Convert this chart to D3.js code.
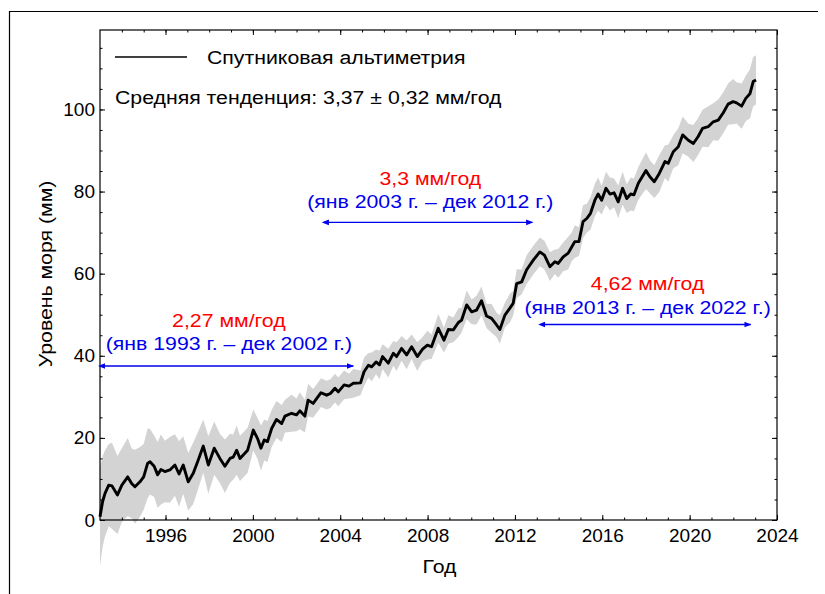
<!DOCTYPE html>
<html>
<head>
<meta charset="utf-8">
<script src="https://cdn.jsdelivr.net/npm/d3@7"></script>
<style>
  body { margin: 0; background: #fff; }
  text { font-family: "Liberation Sans", Arial, sans-serif; }
</style>
</head>
<body>
<svg id="chart"></svg>
<script>
// satellite altimetry GMSL (year, mm, +/- band)
let years = [
  1993.00, 1993.12, 1993.23, 1993.40, 1993.55, 1993.80,
  1994.00, 1994.27, 1994.45, 1994.60, 1994.83,
  1995.00, 1995.18, 1995.29, 1995.48, 1995.64, 1995.79, 1995.97,
  1996.20, 1996.43, 1996.62, 1996.81,
  1997.04, 1997.27, 1997.50, 1997.73, 1997.96,
  1998.23, 1998.49, 1998.72, 1998.95,
  1999.10, 1999.26, 1999.41, 1999.76,
  2000.02, 2000.21, 2000.37, 2000.52, 2000.67, 2000.86,
  2001.08, 2001.32, 2001.47, 2001.77,
  2002.00, 2002.15, 2002.38, 2002.53, 2002.76,
  2003.12, 2003.38, 2003.55, 2003.76, 2003.91,
  2004.18, 2004.40, 2004.60, 2004.93,
  2005.09, 2005.29, 2005.44, 2005.64, 2005.80, 2005.94,
  2006.20, 2006.43, 2006.58, 2006.81,
  2007.04, 2007.27, 2007.53, 2007.77, 2007.99,
  2008.18, 2008.49, 2008.75, 2008.95,
  2009.18, 2009.41, 2009.56, 2009.79,
  2010.02, 2010.24, 2010.47, 2010.70, 2010.93,
  2011.16, 2011.31, 2011.54, 2011.77, 2011.92,
  2012.08, 2012.31, 2012.53, 2012.84,
  2013.14, 2013.35, 2013.60, 2013.83, 2013.98,
  2014.21, 2014.44, 2014.60, 2014.74, 2014.93,
  2015.12, 2015.30, 2015.46, 2015.66, 2015.81, 2015.97,
  2016.17, 2016.35, 2016.54, 2016.73, 2016.93,
  2017.12, 2017.30, 2017.45, 2017.65,
  2018.00, 2018.18, 2018.38, 2018.61, 2018.87,
  2019.02, 2019.25, 2019.48, 2019.68, 2019.94,
  2020.17, 2020.39, 2020.59, 2020.85,
  2021.08, 2021.31, 2021.54, 2021.76, 2021.99,
  2022.15, 2022.38, 2022.57, 2022.76, 2022.91,
  2023.04
];
let seaLevel = [
  0.8, 4.5, 6.5, 8.5, 8.3, 6.1,
  8.5, 10.5, 8.9, 8.1, 9.3,
  10.5, 13.8, 14.2, 13.1, 11.0, 12.3, 11.8,
  12.2, 13.4, 11.2, 13.4,
  9.3, 11.4, 14.6, 18.0, 13.4,
  17.5, 15.0, 13.1, 15.0,
  15.3, 17.0, 15.0, 17.0,
  21.9, 19.9, 17.5, 19.5, 19.1, 22.3,
  24.5, 23.5, 25.3, 26.0,
  25.6, 26.6, 25.3, 29.2, 28.4,
  31.0, 30.4, 30.8, 32.1, 31.2,
  32.9, 32.6, 33.3, 33.4,
  36.1, 37.7, 37.3, 38.5, 37.8, 39.8,
  38.2, 40.6, 39.8, 41.8,
  40.2, 42.2, 39.8, 41.6, 42.6,
  42.2, 46.7, 43.8, 46.4,
  46.3, 48.1, 48.7, 52.4,
  50.7, 51.1, 53.4, 49.7, 49.1,
  47.5, 46.4, 49.9, 51.6, 52.8,
  57.6, 58.0, 60.9, 63.3,
  65.3, 64.5, 61.7, 62.9, 62.5,
  64.1, 65.0, 66.5, 67.8, 67.8,
  72.7, 73.5, 74.7, 77.9, 79.4, 77.9,
  80.8, 79.4, 79.7, 77.5, 80.8,
  78.3, 79.4, 79.2, 82.0,
  85.1, 83.6, 82.4, 84.4, 87.3,
  86.9, 89.7, 90.9, 93.8, 92.5,
  91.7, 93.4, 95.4, 95.8,
  97.0, 97.4, 99.2, 101.3, 101.9,
  101.6, 100.8, 102.7, 103.8, 106.8,
  107.2
];
let spread = [
  12, 11, 10.5, 10, 10.5, 9.5,
  9, 9.5, 8.5, 9, 8.5,
  8, 8.5, 8, 7.5, 8, 8.5, 7.5,
  8, 7.5, 8, 7,
  7, 7.5, 7, 6.5, 7,
  6.5, 6, 6.5, 6,
  5.5, 6, 5.5, 5.5,
  5, 5, 5.5, 5, 5, 4.5,
  4.5, 4.5, 4, 4.5,
  4, 4.5, 4, 4, 3.5,
  3.5, 3.5, 3.5, 3.5, 3.5,
  3.5, 3, 3.5, 3,
  3.5, 3, 3.5, 3, 3.5, 3,
  3.5, 3, 3.5, 3,
  3.5, 3, 3.5, 3, 3.5,
  3, 3.5, 3, 3.5,
  3, 3.5, 3, 3.5,
  3, 3.5, 3.5, 3, 3.5,
  3, 3.5, 3, 3.5, 3,
  3.5, 3, 3.5, 3.5,
  3.5, 3.5, 3.5, 3, 3.5,
  3.5, 4, 3.5, 4, 3.5,
  4, 3.5, 4, 4, 4, 3.5,
  4, 4, 3.5, 4, 4,
  3.5, 4, 4, 4,
  4.5, 4, 4, 4.5, 4,
  4.5, 4, 4.5, 4.5, 4,
  4.5, 4.5, 4.5, 5,
  4.5, 5, 5, 5, 5.5,
  5, 5.5, 5.5, 6, 6,
  6
];

let xMajorTicks = [1996, 2000, 2004, 2008, 2012, 2016, 2020, 2024];
let yMajorTicks = [0, 20, 40, 60, 80, 100];

let legendLabel = 'Спутниковая альтиметрия';
let trendLabel = 'Средняя тенденция: 3,37 ± 0,32 мм/год';

// decade trends: [from, to] in years, arrow level (mm), text
let periods = [
  { from: 1993.2, to: 2004.6, level: 37.5, rate: '2,27 мм/год', span: '(янв 1993 г. – дек 2002 г.)' },
  { from: 2003.45, to: 2012.8, level: 72.5, rate: '3,3 мм/год', span: '(янв 2003 г. – дек 2012 г.)' },
  { from: 2013.35, to: 2022.8, level: 47.6, rate: '4,62 мм/год', span: '(янв 2013 г. – дек 2022 г.)' }
];
// how far the two text lines sit above each arrow (px)
let spanGap = [16, 14, 11];
let rateGap = [39, 37, 35];

let width = 825;
let height = 594;
let plot = { left: 100, right: 777, top: 30, bottom: 520 };
let textStretch = 1.12; // the labels in the source are a bit wider than Arial

let svg = d3.select('#chart')
  .attr('width', width)
  .attr('height', height);

// page frame
svg.append('path')
  .attr('d', `M9.5,${height} V11.5 H818`)
  .attr('fill', 'none')
  .attr('stroke', '#000')
  .attr('stroke-width', 1.2);

let x = d3.scaleLinear().domain([1993, 2024]).range([plot.left, plot.right]);
let y = d3.scaleLinear().domain([0, 119.35]).range([plot.bottom, plot.top]);

let data = years.map((yr, i) => ({ year: yr, value: seaLevel[i], err: spread[i] }));

// uncertainty band
let band = d3.area()
  .x(d => x(d.year))
  .y0(d => y(d.value - d.err))
  .y1(d => y(d.value + d.err));

svg.append('path').datum(data)
  .attr('d', band)
  .attr('fill', '#d3d3d3');

// main series
let line = d3.line()
  .x(d => x(d.year))
  .y(d => y(d.value));

svg.append('path').datum(data)
  .attr('d', line)
  .attr('fill', 'none')
  .attr('stroke', '#000')
  .attr('stroke-width', 2.9)
  .attr('stroke-linejoin', 'round');

// axes: ticks inside, mirrored on all four sides
let xMinor = d3.range(1994, 2024);
let yMinor = d3.range(5, 119, 5);

function styleAxis(g) {
  g.selectAll('.domain').remove();
  g.selectAll('line').attr('stroke', '#000').attr('stroke-width', 1);
}

svg.append('g')
  .attr('transform', `translate(0,${plot.bottom})`)
  .call(d3.axisBottom(x).tickValues(xMinor).tickSize(-2.5).tickFormat(''))
  .call(styleAxis);
svg.append('g')
  .attr('transform', `translate(0,${plot.top})`)
  .call(d3.axisTop(x).tickValues(xMinor).tickSize(-2.5).tickFormat(''))
  .call(styleAxis);
svg.append('g')
  .attr('transform', `translate(${plot.left},0)`)
  .call(d3.axisLeft(y).tickValues(yMinor).tickSize(-2.5).tickFormat(''))
  .call(styleAxis);
svg.append('g')
  .attr('transform', `translate(${plot.right},0)`)
  .call(d3.axisRight(y).tickValues(yMinor).tickSize(-2.5).tickFormat(''))
  .call(styleAxis);

let xAxis = svg.append('g')
  .attr('transform', `translate(0,${plot.bottom})`)
  .call(d3.axisBottom(x).tickValues(xMajorTicks).tickSize(-5).tickPadding(9).tickFormat(d3.format('d')))
  .call(styleAxis);
xAxis.selectAll('text').attr('font-size', 19).attr('fill', '#000');

svg.append('g')
  .attr('transform', `translate(0,${plot.top})`)
  .call(d3.axisTop(x).tickValues(xMajorTicks).tickSize(-5).tickFormat(''))
  .call(styleAxis);

let yAxis = svg.append('g')
  .attr('transform', `translate(${plot.left},0)`)
  .call(d3.axisLeft(y).tickValues(yMajorTicks).tickSize(-5).tickPadding(5))
  .call(styleAxis);
yAxis.selectAll('text').attr('font-size', 19).attr('fill', '#000');

svg.append('g')
  .attr('transform', `translate(${plot.right},0)`)
  .call(d3.axisRight(y).tickValues(yMajorTicks).tickSize(-5).tickFormat(''))
  .call(styleAxis);

// frame of the plot
svg.append('rect')
  .attr('x', plot.left)
  .attr('y', plot.top)
  .attr('width', plot.right - plot.left)
  .attr('height', plot.bottom - plot.top)
  .attr('fill', 'none')
  .attr('stroke', '#000')
  .attr('stroke-width', 1.2);

// text placed at (tx, ty), stretched sideways
function label(tx, ty, str, anchor, color, rot) {
  return svg.append('text')
    .attr('transform', `translate(${tx},${ty})${rot ? ' rotate(' + rot + ')' : ''} scale(${textStretch},1)`)
    .attr('text-anchor', anchor)
    .attr('font-size', 19)
    .attr('fill', color || '#000')
    .text(str);
}

// axis titles
label((plot.left + plot.right) / 2 + 1, 573, 'Год', 'middle');
label(52, 274, 'Уровень моря (мм)', 'middle', '#000', -90);

// legend
svg.append('line')
  .attr('x1', 115).attr('x2', 187)
  .attr('y1', 57).attr('y2', 57)
  .attr('stroke', '#000')
  .attr('stroke-width', 1.6);
label(207, 64, legendLabel, 'start');
label(115, 104, trendLabel, 'start');

// trend annotations with double arrows
let defs = svg.append('defs');
['start', 'end'].forEach(k => {
  defs.append('marker')
    .attr('id', 'arrow-' + k)
    .attr('viewBox', '0 0 10 10')
    .attr('refX', k === 'end' ? 9 : 1)
    .attr('refY', 5)
    .attr('markerWidth', 7)
    .attr('markerHeight', 7)
    .attr('markerUnits', 'userSpaceOnUse')
    .attr('orient', k === 'end' ? 'auto' : 'auto-start-reverse')
    .append('path')
      .attr('d', 'M0,1 L10,5 L0,9 Z')
      .attr('fill', '#0000ee');
});

svg.append('g').selectAll('line').data(periods).join('line')
  .attr('x1', d => x(d.from))
  .attr('x2', d => x(d.to))
  .attr('y1', d => y(d.level))
  .attr('y2', d => y(d.level))
  .attr('stroke', '#0000ee')
  .attr('stroke-width', 1.4)
  .attr('marker-start', 'url(#arrow-start)')
  .attr('marker-end', 'url(#arrow-end)');

periods.forEach((d, i) => {
  let cx = (x(d.from) + x(d.to)) / 2;
  label(cx, y(d.level) - spanGap[i], d.span, 'middle', '#0000ee');
  label(cx, y(d.level) - rateGap[i], d.rate, 'middle', '#ff0000');
});
</script>
</body>
</html>
